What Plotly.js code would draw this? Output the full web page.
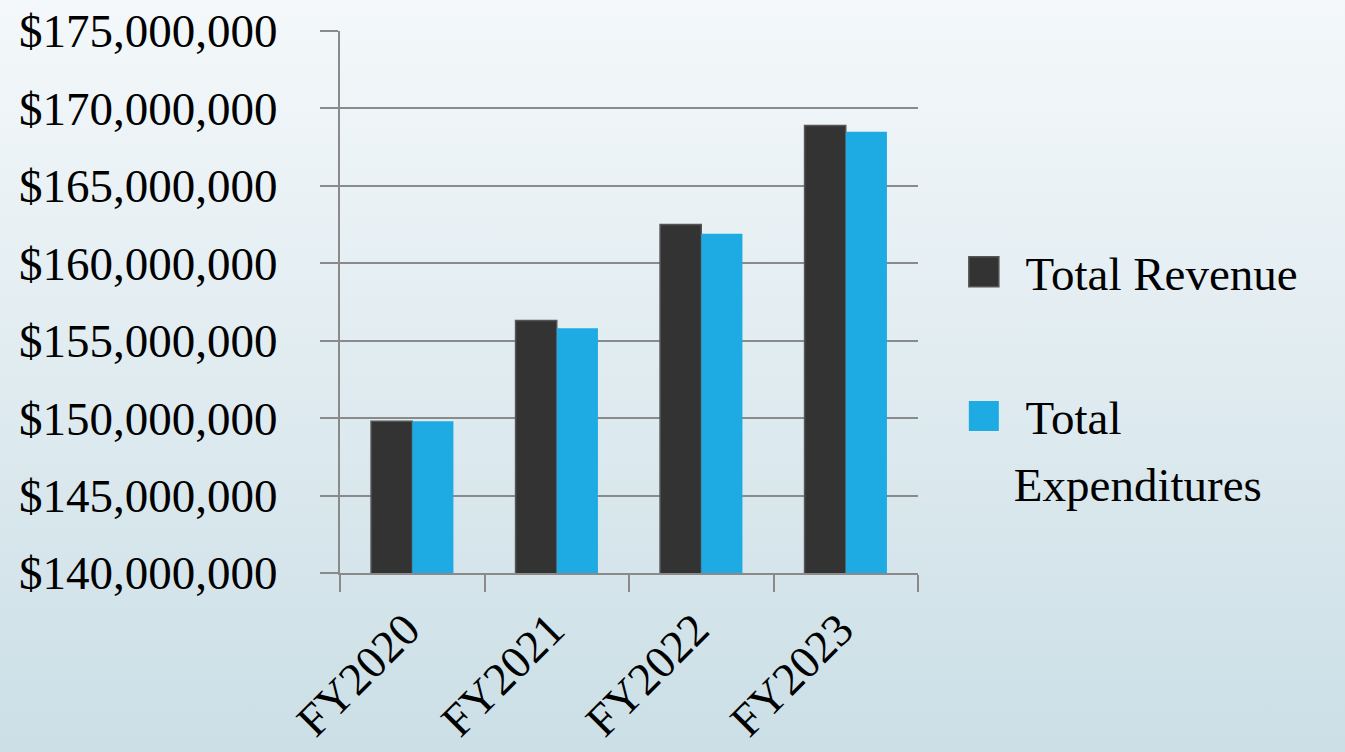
<!DOCTYPE html>
<html>
<head>
<meta charset="utf-8">
<script src="https://cdn.plot.ly/plotly-3.0.1.min.js"></script>
<style>
  html, body { margin:0; padding:0; width:1345px; height:752px; overflow:hidden;
    background: linear-gradient(to bottom, #f4f8fa 0%, #e4eef2 40%, #cbdfe6 100%); }
  #chart { width:1345px; height:752px; }
</style>
</head>
<body>
<div id="chart"></div>
<script>
const categories = ["FY2020", "FY2021", "FY2022", "FY2023"];
const seriesNames = ["Total Revenue", "Total Expenditures"];
const revenue = [149800000, 156300000, 162500000, 168900000];
const expenditures = [149800000, 155800000, 161900000, 168500000];
const legendLabels = ["&nbsp;Total Revenue", "&nbsp;Total<br>Expenditures"];

const FONT = "Liberation Serif, Times New Roman, serif";
const GRID = "#8a8a8a";

const traces = [
  { type: "bar", name: legendLabels[0], x: categories, y: revenue,
    marker: { color: "#333333", line: { color: "#555555", width: 1.5 } },
    legendgroup: "a", hoverinfo: "x+y" },
  { type: "bar", name: legendLabels[1], x: categories, y: expenditures,
    marker: { color: "#1eabe3", line: { width: 0 } },
    legendgroup: "b", hoverinfo: "x+y" }
];

const layout = {
  width: 1345, height: 752,
  paper_bgcolor: "rgba(0,0,0,0)", plot_bgcolor: "rgba(0,0,0,0)",
  margin: { l: 340, r: 427, t: 31, b: 179, pad: 0 },
  font: { family: FONT, size: 47, color: "#000" },
  barmode: "group", bargap: 0.43, bargroupgap: 0,
  xaxis: {
    type: "category", tickson: "boundaries", ticks: "outside", ticklen: 17,
    tickwidth: 2, tickcolor: GRID, showline: true, linecolor: GRID, linewidth: 2,
    showgrid: false, tickangle: -45, ticklabelstandoff: 9, ticklabelshift: -6,
    tickfont: { family: FONT, size: 46, color: "#000" }
  },
  yaxis: {
    range: [140000000, 175000000], dtick: 5000000, tick0: 140000000,
    tickprefix: "$", tickformat: ",d", ticks: "outside", ticklen: 18,
    tickwidth: 2, tickcolor: GRID, showline: true, linecolor: GRID, linewidth: 2,
    showgrid: true, gridcolor: GRID, gridwidth: 2, zeroline: false,
    ticklabelstandoff: 33, tickfont: { family: FONT, size: 47, color: "#000" }
  },
  showlegend: true,
  legend: {
    x: 1.062, xanchor: "left", y: 0.624, yanchor: "top",
    bgcolor: "rgba(0,0,0,0)", borderwidth: 0, itemwidth: 50,
    tracegroupgap: 80, valign: "top", traceorder: "grouped",
    font: { family: FONT, size: 47, color: "#000" }
  }
};

Plotly.newPlot("chart", traces, layout, { staticPlot: true, displayModeBar: false }).then(function (gd) {
  gd.querySelectorAll(".legend .legendpoints path").forEach(function (p) {
    p.setAttribute("d", "M15,15H-15V-15H15Z");
  });
  gd.querySelectorAll(".legend .legendtext tspan.line").forEach(function (t) {
    var dy = t.getAttribute("dy");
    if (dy && parseFloat(dy) > 0) t.setAttribute("dy", "1.43em");
  });
});
</script>
</body>
</html>
